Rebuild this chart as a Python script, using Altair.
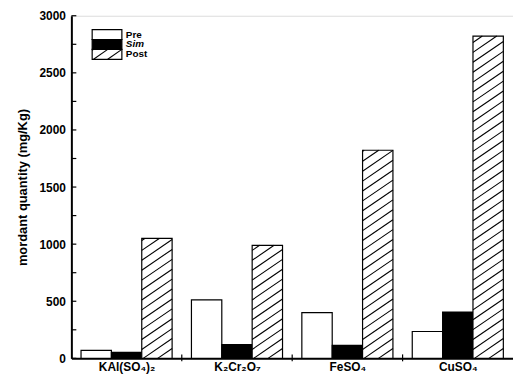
import json
import altair as alt
import pandas as pd

# ---- data ----
categories = ["KAl(SO₄)₂", "K₂Cr₂O₇", "FeSO₄", "CuSO₄"]
series = ["Pre", "Sim", "Post"]
pre_values = [70, 512, 400, 235]
sim_values = [52, 120, 113, 405]
post_values = [1050, 990, 1822, 2822]
y_major_ticks = [0, 500, 1000, 1500, 2000, 2500, 3000]
y_minor_ticks = [250, 750, 1250, 1750, 2250, 2750]

# ---- layout constants ----
W, H = 446, 346
Y_MAX = 3000
PX_Y = H / Y_MAX          # pixels per y unit
PX_X = W / len(categories)  # pixels per x unit
GROUP_PAD = 0.0875
BAR_W = (1 - 2 * GROUP_PAD) / 3
HATCH_STEP = 10 / PX_Y    # vertical spacing of hatch lines
HATCH_RISE = 21 / PX_Y    # rise of a hatch line across a bar

FONT = "Liberation Sans"

rows = []
for i, cat in enumerate(categories):
    vals = {"Pre": pre_values[i], "Sim": sim_values[i], "Post": post_values[i]}
    for j, s in enumerate(series):
        x0 = i + GROUP_PAD + j * BAR_W
        rows.append({"category": cat, "series": s, "x0": x0, "x1": x0 + BAR_W,
                     "lo": 0, "hi": vals[s]})
bars_df = pd.DataFrame(rows)

# legend boxes (positions in data units computed from pixel layout)
def y_from_px(py):
    return Y_MAX - (py - 14) / PX_Y

leg_rows = []
for k, s in enumerate(series):
    top = 28 + 10 * k
    leg_rows.append({"series": s,
                     "x0": (93 - 72) / PX_X, "x1": (123 - 72) / PX_X,
                     "lo": y_from_px(top + 10), "hi": y_from_px(top),
                     "tx": (127 - 72) / PX_X, "ty": y_from_px(top + 5)})
leg_df = pd.DataFrame(leg_rows)

x_scale = alt.Scale(domain=[0, len(categories)], nice=False, zero=False)
y_scale = alt.Scale(domain=[0, Y_MAX], nice=False)

label_expr = json.dumps(categories, ensure_ascii=False) + "[floor(datum.value)]"

x_axis = alt.Axis(values=[i + 0.5 for i in range(len(categories))], labelExpr=label_expr,
                  ticks=False, title=None, grid=False, labelPadding=3,
                  labelFontSize=12, labelFontWeight="bold", labelFont=FONT,
                  labelColor="black", domainColor="black", domainWidth=2)
y_axis = alt.Axis(values=y_major_ticks, format="d", ticks=False, grid=False, labelPadding=6,
                  title="mordant quantity (mg/Kg)", titleFontSize=13,
                  titleFontWeight="bold", titleFont=FONT, titleColor="black",
                  titlePadding=10, labelFontSize=12, labelFontWeight="bold",
                  labelFont=FONT, labelColor="black", domainColor="black",
                  domainWidth=2)

fill_scale = alt.Scale(domain=series, range=["white", "black", "white"])

bars = alt.Chart(bars_df).mark_rect(stroke="black", strokeWidth=1.2).encode(
    x=alt.X("x0:Q", scale=x_scale, axis=x_axis),
    x2="x1:Q",
    y=alt.Y("lo:Q", scale=y_scale, axis=y_axis),
    y2="hi:Q",
    fill=alt.Fill("series:N", scale=fill_scale, legend=None),
)


def hatch(source):
    return alt.Chart(source).transform_filter(
        alt.datum.series == "Post"
    ).transform_calculate(
        bs=f"sequence(datum.lo - {HATCH_RISE}, datum.hi, {HATCH_STEP})"
    ).transform_flatten(["bs"], as_=["b"]).transform_calculate(
        t0=f"max(0, (datum.lo - datum.b) / {HATCH_RISE})",
        t1=f"min(1, (datum.hi - datum.b) / {HATCH_RISE})",
    ).transform_filter("datum.t1 > datum.t0").transform_calculate(
        hx0="datum.x0 + datum.t0 * (datum.x1 - datum.x0)",
        hx1="datum.x0 + datum.t1 * (datum.x1 - datum.x0)",
        hy0=f"datum.b + datum.t0 * {HATCH_RISE}",
        hy1=f"datum.b + datum.t1 * {HATCH_RISE}",
    ).mark_rule(color="black", strokeWidth=1.1).encode(
        x="hx0:Q", x2="hx1:Q", y="hy0:Q", y2="hy1:Q"
    )


legend_boxes = alt.Chart(leg_df).mark_rect(stroke="black", strokeWidth=1.2).encode(
    x="x0:Q", x2="x1:Q", y="lo:Q", y2="hi:Q",
    fill=alt.Fill("series:N", scale=fill_scale, legend=None),
)
legend_text = alt.Chart(leg_df).transform_filter(alt.datum.series != "Sim").mark_text(
    align="left", baseline="middle", font=FONT, fontSize=10, fontWeight="bold",
    color="black").encode(x="tx:Q", y="ty:Q", text="series:N")
legend_text_sim = alt.Chart(leg_df).transform_filter(alt.datum.series == "Sim").mark_text(
    align="left", baseline="middle", font=FONT, fontSize=10, fontWeight="bold",
    fontStyle="italic", color="black").encode(x="tx:Q", y="ty:Q", text="series:N")

# inward axis ticks
ytick_df = pd.DataFrame({"v": y_major_ticks + y_minor_ticks})
yticks = alt.Chart(ytick_df).transform_calculate(
    a="0", b=f"{5 / PX_X}").mark_rule(color="black", strokeWidth=1.2).encode(
    x="a:Q", x2="b:Q", y="v:Q")
xtick_df = pd.DataFrame({"v": list(range(1, len(categories)))})
xticks = alt.Chart(xtick_df).transform_calculate(
    a=f"{-3 / PX_Y}", b=f"{4 / PX_Y}").mark_rule(color="black", strokeWidth=1.2).encode(
    x="v:Q", y="a:Q", y2="b:Q")

chart = alt.layer(
    bars, hatch(bars_df), legend_boxes, hatch(leg_df), legend_text, legend_text_sim,
    yticks, xticks
).properties(
    width=W, height=H,
    autosize=alt.AutoSizeParams(type="none"),
    padding={"left": 64, "top": 6, "right": 0, "bottom": 16},
).configure_view(stroke="black", strokeWidth=1.2).configure(background="white")

chart.save("out.html", embed_options={"renderer": "svg", "actions": False})
